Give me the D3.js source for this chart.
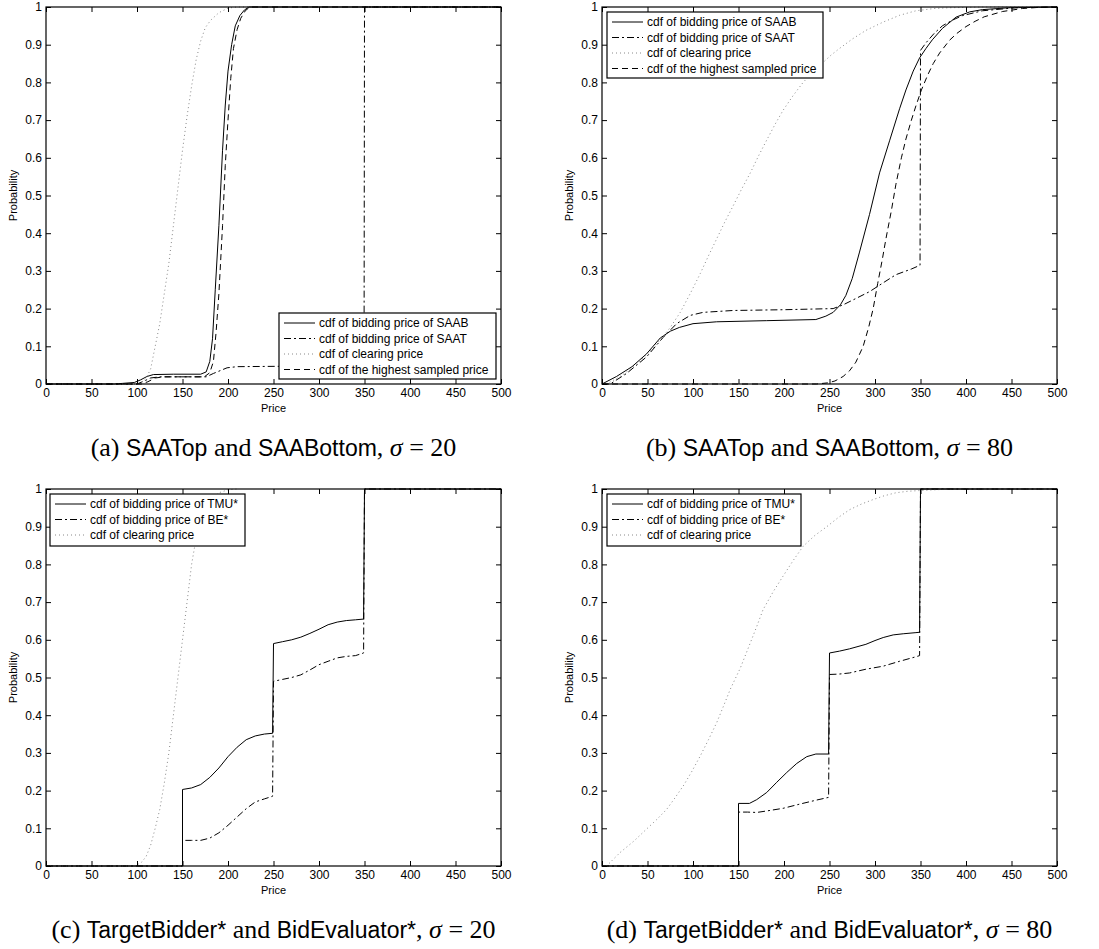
<!DOCTYPE html>
<html>
<head>
<meta charset="utf-8">
<script src="https://cdn.jsdelivr.net/npm/d3@7"></script>
<style>
  body { margin: 0; background: #fff; }
  svg { display: block; }
  .tick text { font-family: "Liberation Sans", Arial, sans-serif; font-size: 12px; fill: #000; }
  .lab { font-family: "Liberation Sans", Arial, sans-serif; font-size: 11px; fill: #000; }
  .leg { font-family: "Liberation Sans", Arial, sans-serif; font-size: 12px; fill: #000; }
  .cap { font-family: "Liberation Serif", "DejaVu Serif", serif; font-size: 26px; fill: #000; }
  .cap .sf { font-family: "Liberation Sans", Arial, sans-serif; font-size: 23px; }
  .cap .it { font-style: italic; }
</style>
</head>
<body>
<script>
// x ticks and y ticks shared by every panel
const priceTicks = [0, 50, 100, 150, 200, 250, 300, 350, 400, 450, 500];
const probTicks = [0, 0.1, 0.2, 0.3, 0.4, 0.5, 0.6, 0.7, 0.8, 0.9, 1];

// (a) sigma = 20, SAATop / SAABottom
const aSAAB = [[0,0],[75,0],[97,0.004],[104,0.011],[111,0.02],[118,0.025],[140,0.026],[170,0.026],[176,0.032],[180,0.06],[183,0.12],[186,0.25],[190,0.42],[194,0.62],[197,0.74],[200,0.83],[204,0.9],[208,0.95],[213,0.977],[218,0.992],[223,1],[500,1]];
const aSAAT = [[0,0],[100,0],[108,0.008],[115,0.016],[125,0.019],[176,0.019],[184,0.028],[192,0.036],[199,0.043],[210,0.046],[260,0.047],[349.5,0.047],[350,1],[500,1]];
const aClear = [[0,0],[100,0],[105,0.004],[110,0.015],[115,0.04],[120,0.1],[125,0.16],[130,0.24],[135,0.32],[140,0.42],[145,0.52],[150,0.62],[155,0.71],[160,0.79],[165,0.86],[170,0.91],[175,0.945],[181,0.965],[190,0.985],[200,0.997],[210,1],[500,1]];
const aHigh = [[0,0],[105,0],[112,0.006],[120,0.016],[130,0.019],[174,0.019],[180,0.03],[184,0.06],[187,0.14],[190,0.24],[194,0.42],[197,0.58],[200,0.7],[203,0.81],[206,0.89],[210,0.94],[214,0.97],[219,0.99],[224,1],[500,1]];

// (b) sigma = 80, SAATop / SAABottom
const bSAAB = [[0,0],[16,0.02],[33,0.046],[49,0.08],[64,0.122],[75,0.14],[85,0.15],[100,0.16],[126,0.165],[181,0.168],[235,0.171],[246,0.18],[254,0.19],[262,0.21],[268,0.235],[275,0.28],[283,0.35],[294,0.45],[305,0.56],[316,0.645],[327,0.73],[334,0.78],[342,0.83],[349,0.865],[356,0.89],[363,0.913],[374,0.943],[389,0.973],[404,0.987],[418,0.993],[447,0.998],[500,1]];
const bSAAT = [[0,0],[9,0],[27,0.028],[49,0.072],[67,0.123],[82,0.16],[97,0.182],[111,0.19],[144,0.195],[199,0.197],[254,0.2],[265,0.21],[280,0.228],[294,0.245],[310,0.27],[323,0.29],[340,0.305],[349.5,0.315],[350,0.885],[356,0.905],[365,0.93],[374,0.95],[385,0.965],[396,0.977],[418,0.99],[455,0.998],[500,1]];
const bClear = [[0,0],[5,0],[20,0.02],[35,0.046],[50,0.08],[64,0.117],[75,0.15],[86,0.19],[97,0.24],[108,0.293],[117,0.34],[126,0.385],[135,0.43],[144,0.472],[153,0.515],[163,0.56],[172,0.605],[181,0.647],[190,0.688],[199,0.726],[210,0.765],[221,0.8],[232,0.828],[243,0.853],[252,0.873],[261,0.89],[275,0.915],[290,0.938],[309,0.96],[327,0.978],[345,0.99],[365,0.996],[382,0.998],[418,1],[500,1]];
const bHigh = [[0,0],[236,0],[248,0.003],[256,0.008],[265,0.02],[272,0.035],[279,0.058],[287,0.1],[293,0.15],[298,0.2],[303,0.267],[308,0.33],[312,0.385],[318,0.46],[323,0.53],[329,0.6],[334,0.65],[340,0.7],[345,0.738],[351,0.78],[358,0.82],[364,0.85],[371,0.878],[382,0.912],[390,0.93],[400,0.948],[410,0.962],[420,0.974],[440,0.988],[462,0.996],[480,0.999],[500,1]];

// (c) sigma = 20, TargetBidder* / BidEvaluator*
const cTMU = [[0,0],[150,0],[150,0.203],[160,0.207],[170,0.216],[180,0.235],[190,0.26],[200,0.29],[210,0.315],[220,0.335],[230,0.345],[240,0.35],[249,0.352],[250,0.59],[260,0.595],[270,0.6],[280,0.607],[290,0.617],[300,0.628],[310,0.64],[320,0.647],[330,0.651],[340,0.653],[349,0.655],[350,1],[500,1]];
const cBE = [[0,0],[150,0],[150,0.068],[160,0.068],[170,0.068],[180,0.074],[190,0.088],[200,0.108],[210,0.13],[220,0.152],[230,0.17],[240,0.178],[249,0.185],[250,0.49],[260,0.495],[270,0.5],[280,0.507],[290,0.52],[300,0.534],[310,0.543],[320,0.552],[330,0.556],[340,0.558],[349,0.565],[350,1],[500,1]];
const cClear = [[0,0],[95,0],[100,0.003],[105,0.01],[110,0.025],[115,0.055],[120,0.1],[125,0.15],[130,0.22],[135,0.3],[140,0.4],[145,0.5],[150,0.6],[155,0.7],[160,0.8],[165,0.87],[170,0.92],[175,0.95],[180,0.97],[190,0.99],[200,0.998],[210,1]];

// (d) sigma = 80, TargetBidder* / BidEvaluator*
const dTMU = [[0,0],[150,0],[150,0.166],[162,0.166],[170,0.176],[181,0.195],[192,0.222],[203,0.248],[214,0.272],[225,0.29],[235,0.297],[249,0.297],[250,0.565],[261,0.57],[272,0.576],[290,0.588],[300,0.598],[309,0.606],[320,0.613],[331,0.616],[345,0.619],[349,0.62],[350,1],[500,1]];
const dBE = [[0,0],[150,0],[150,0.143],[160,0.143],[170,0.142],[181,0.146],[199,0.153],[217,0.164],[236,0.175],[249,0.182],[250,0.508],[260,0.509],[272,0.512],[290,0.522],[309,0.53],[327,0.543],[345,0.555],[349,0.558],[350,1],[500,1]];
const dClear = [[0,0],[5,0],[20,0.036],[35,0.066],[49,0.098],[60,0.123],[71,0.15],[80,0.18],[90,0.215],[99,0.252],[108,0.292],[117,0.335],[126,0.38],[134,0.427],[141,0.469],[152,0.525],[163,0.592],[170,0.635],[177,0.68],[188,0.727],[199,0.769],[210,0.81],[221,0.848],[234,0.877],[247,0.9],[260,0.925],[272,0.945],[285,0.96],[298,0.972],[310,0.982],[323,0.99],[336,0.994],[350,0.996],[375,0.999],[400,1],[500,1]];

// legend labels
const legendA = ["cdf of bidding price of SAAB", "cdf of bidding price of SAAT", "cdf of clearing price", "cdf of the highest sampled price"];
const legendC = ["cdf of bidding price of TMU*", "cdf of bidding price of BE*", "cdf of clearing price"];

const styles = {
  solid: { stroke: "#000", dash: null },
  dashdot: { stroke: "#000", dash: "7,3,2,3" },
  dotted: { stroke: "#888", dash: "1,3" },
  dashed: { stroke: "#000", dash: "6,4" }
};

// caption pieces: [text, kind] where kind is rm (serif), sf (sans) or it (italic)
const panels = [
  { left: 46, top: 7, series: [aSAAB, aSAAT, aClear, aHigh], kinds: ["solid", "dashdot", "dotted", "dashed"],
    legend: legendA, legBox: [279, 313, 217, 66],
    caption: [["(a) ", "rm"], ["SAATop", "sf"], [" and ", "rm"], ["SAABottom", "sf"], [", ", "rm"], ["σ", "it"], [" = 20", "rm"]] },
  { left: 602, top: 7, series: [bSAAB, bSAAT, bClear, bHigh], kinds: ["solid", "dashdot", "dotted", "dashed"],
    legend: legendA, legBox: [607, 12, 216, 66],
    caption: [["(b) ", "rm"], ["SAATop", "sf"], [" and ", "rm"], ["SAABottom", "sf"], [", ", "rm"], ["σ", "it"], [" = 80", "rm"]] },
  { left: 46, top: 489, series: [cTMU, cBE, cClear], kinds: ["solid", "dashdot", "dotted"],
    legend: legendC, legBox: [50, 494, 195, 52],
    caption: [["(c) ", "rm"], ["TargetBidder*", "sf"], [" and ", "rm"], ["BidEvaluator*", "sf"], [", ", "rm"], ["σ", "it"], [" = 20", "rm"]] },
  { left: 602, top: 489, series: [dTMU, dBE, dClear], kinds: ["solid", "dashdot", "dotted"],
    legend: legendC, legBox: [607, 494, 194, 52],
    caption: [["(d) ", "rm"], ["TargetBidder*", "sf"], [" and ", "rm"], ["BidEvaluator*", "sf"], [", ", "rm"], ["σ", "it"], [" = 80", "rm"]] }
];

const width = 455;
const height = 377;

const svg = d3.select("body").append("svg")
  .attr("width", 1099)
  .attr("height", 949);

panels.forEach((p, k) => {
  const x = d3.scaleLinear().domain([0, 500]).range([0, width]);
  const y = d3.scaleLinear().domain([0, 1]).range([height, 0]);

  const g = svg.append("g")
    .attr("transform", `translate(${p.left}, ${p.top})`);

  g.append("clipPath").attr("id", "clip" + k)
    .append("rect").attr("x", -1).attr("y", -1).attr("width", width + 2).attr("height", height + 2);

  const line = d3.line().x(d => x(d[0])).y(d => y(d[1]));

  g.append("g").attr("clip-path", `url(#clip${k})`)
    .selectAll("path.curve")
    .data(p.series)
    .enter()
    .append("path")
    .attr("class", "curve")
    .attr("d", line)
    .attr("fill", "none")
    .attr("stroke", (d, i) => styles[p.kinds[i]].stroke)
    .attr("stroke-width", 1)
    .attr("stroke-dasharray", (d, i) => styles[p.kinds[i]].dash);

  // axes with inward ticks on all four sides
  const xAxis = d3.axisBottom(x).tickValues(priceTicks).tickSizeInner(-5).tickSizeOuter(0).tickPadding(4);
  const yAxis = d3.axisLeft(y).tickValues(probTicks).tickSizeInner(-5).tickSizeOuter(0).tickPadding(4).tickFormat(d3.format("~g"));

  g.append("g").attr("transform", `translate(0, ${height})`).call(xAxis);
  g.append("g").call(yAxis);
  g.append("g").call(d3.axisTop(x).tickValues(priceTicks).tickSizeInner(-5).tickSizeOuter(0).tickFormat(""));
  g.append("g").attr("transform", `translate(${width}, 0)`)
    .call(d3.axisRight(y).tickValues(probTicks).tickSizeInner(-5).tickSizeOuter(0).tickFormat(""));
  g.selectAll(".domain").remove();
  g.selectAll(".tick line").attr("stroke", "#000");

  g.append("rect")
    .attr("width", width).attr("height", height)
    .attr("fill", "none").attr("stroke", "#000").attr("stroke-width", 1.2);

  g.append("text").attr("class", "lab")
    .attr("text-anchor", "middle")
    .attr("x", width / 2).attr("y", height + 28)
    .text("Price");

  g.append("text").attr("class", "lab")
    .attr("text-anchor", "middle")
    .attr("transform", `translate(${-29}, ${height / 2}) rotate(-90)`)
    .text("Probability");

  // legend
  const [lx, ly, lw, lh] = p.legBox;
  const leg = svg.append("g");
  leg.append("rect")
    .attr("x", lx).attr("y", ly).attr("width", lw).attr("height", lh)
    .attr("fill", "#fff").attr("stroke", "#000").attr("stroke-width", 1.2);
  p.legend.forEach((t, i) => {
    const cy = ly + 10 + i * 15.5;
    const st = styles[p.kinds[i]];
    leg.append("line")
      .attr("x1", lx + 5).attr("x2", lx + 36).attr("y1", cy).attr("y2", cy)
      .attr("stroke", st.stroke).attr("stroke-dasharray", st.dash);
    leg.append("text").attr("class", "leg")
      .attr("x", lx + 40).attr("y", cy)
      .attr("dominant-baseline", "central")
      .text(t);
  });

  // caption under the panel
  const cap = svg.append("text").attr("class", "cap")
    .attr("text-anchor", "middle")
    .attr("x", p.left + width / 2)
    .attr("y", p.top + height + 72)
    .style("white-space", "pre");
  p.caption.forEach(([t, kind]) => {
    cap.append("tspan").attr("class", kind === "rm" ? null : kind).text(t);
  });
});
</script>
</body>
</html>
